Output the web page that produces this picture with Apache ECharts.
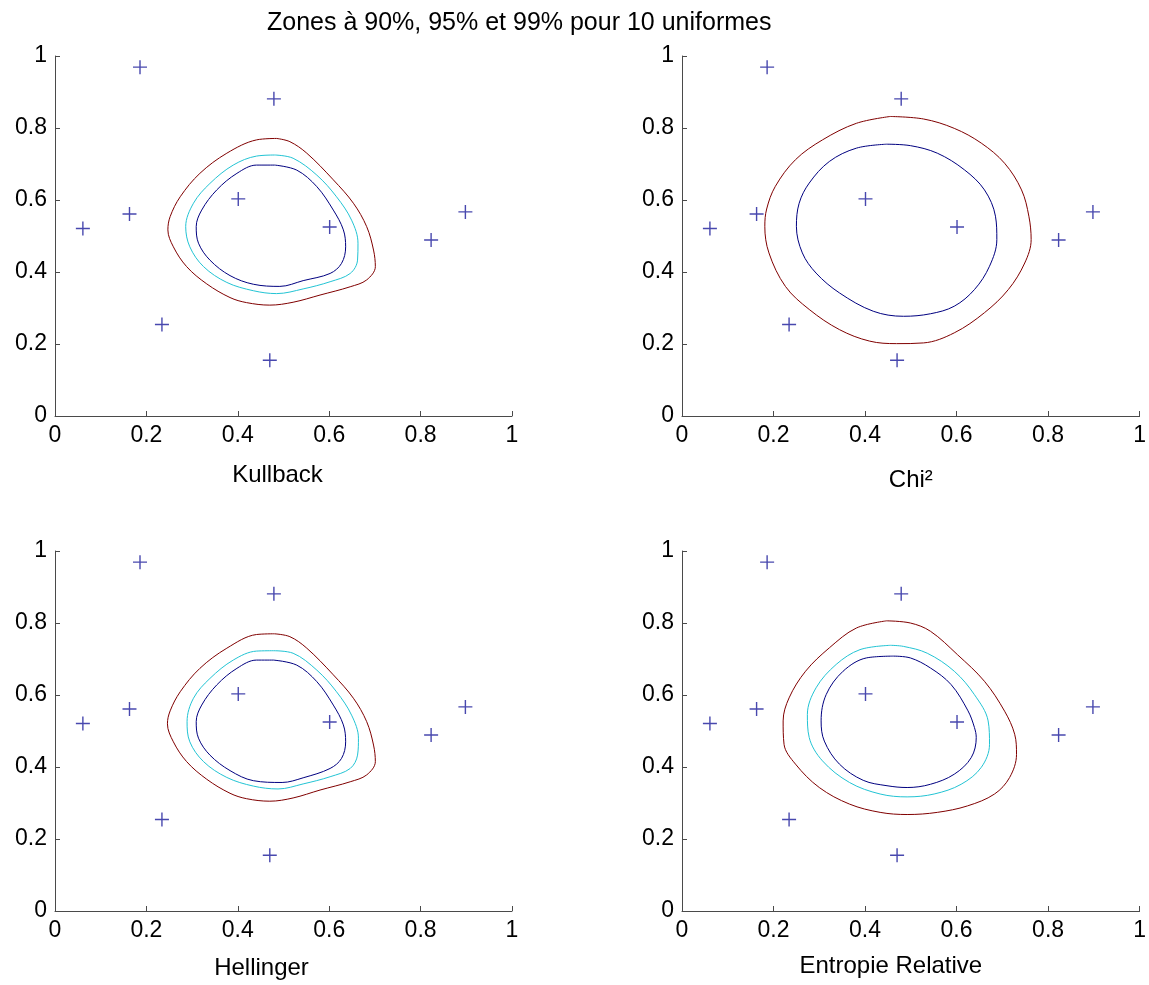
<!DOCTYPE html>
<html>
<head>
<meta charset="utf-8">
<script src="https://cdn.jsdelivr.net/npm/echarts@6/dist/echarts.min.js"></script>
<style>
html,body{margin:0;padding:0;background:#fff;}
#chart{width:1149px;height:985px;}
</style>
</head>
<body>
<div id="chart"></div>
<script>
// ---- data ----
const titleText = "Zones à 90%, 95% et 99% pour 10 uniformes";
const panelNames = ["Kullback", "Chi²", "Hellinger", "Entropie Relative"];
const tickValues = [0, 0.2, 0.4, 0.6, 0.8, 1];

// the 10 uniform sample points (same in every panel)
const pointsX = [0.061, 0.163, 0.186, 0.234, 0.401, 0.479, 0.470, 0.601, 0.823, 0.898];
const pointsY = [0.521, 0.561, 0.969, 0.254, 0.603, 0.881, 0.155, 0.525, 0.489, 0.567];

// Kullback contours
const kulOuter = [[0.485,0.771],[0.514,0.762],[0.551,0.730],[0.609,0.656],[0.653,0.591],[0.682,0.526],[0.697,0.461],[0.701,0.415],[0.682,0.378],[0.646,0.359],[0.580,0.336],[0.521,0.316],[0.470,0.308],[0.419,0.315],[0.383,0.329],[0.332,0.367],[0.288,0.415],[0.259,0.470],[0.247,0.517],[0.252,0.554],[0.274,0.609],[0.317,0.674],[0.376,0.730],[0.441,0.767]];
const kulMid = [[0.481,0.725],[0.521,0.716],[0.573,0.669],[0.616,0.609],[0.649,0.544],[0.663,0.480],[0.662,0.433],[0.646,0.396],[0.602,0.373],[0.543,0.353],[0.485,0.340],[0.434,0.348],[0.376,0.371],[0.325,0.415],[0.295,0.470],[0.286,0.526],[0.303,0.591],[0.339,0.646],[0.390,0.697],[0.441,0.722]];
const kulInner = [[0.481,0.697],[0.529,0.683],[0.573,0.637],[0.609,0.572],[0.631,0.517],[0.636,0.470],[0.627,0.424],[0.602,0.396],[0.543,0.376],[0.492,0.360],[0.434,0.366],[0.383,0.390],[0.339,0.433],[0.314,0.480],[0.309,0.526],[0.321,0.572],[0.354,0.628],[0.398,0.674],[0.441,0.697]];

// Chi² contours
const chiOuter = [[0.455,0.832],[0.528,0.825],[0.595,0.799],[0.654,0.758],[0.705,0.702],[0.742,0.628],[0.758,0.555],[0.763,0.490],[0.749,0.425],[0.713,0.351],[0.661,0.287],[0.595,0.231],[0.528,0.203],[0.469,0.201],[0.410,0.208],[0.344,0.240],[0.278,0.296],[0.226,0.360],[0.190,0.453],[0.181,0.527],[0.185,0.575],[0.204,0.638],[0.248,0.712],[0.307,0.767],[0.381,0.813]];
const chiInner = [[0.447,0.755],[0.499,0.751],[0.558,0.730],[0.617,0.684],[0.661,0.628],[0.685,0.555],[0.688,0.490],[0.672,0.416],[0.639,0.351],[0.595,0.305],[0.543,0.284],[0.484,0.277],[0.418,0.291],[0.344,0.342],[0.293,0.397],[0.263,0.453],[0.250,0.527],[0.256,0.591],[0.278,0.647],[0.322,0.707],[0.381,0.744]];

// Hellinger contours
const helOuter = [[0.480,0.770],[0.514,0.762],[0.551,0.730],[0.609,0.656],[0.653,0.591],[0.682,0.526],[0.697,0.461],[0.701,0.415],[0.682,0.378],[0.646,0.359],[0.580,0.336],[0.521,0.314],[0.470,0.305],[0.419,0.312],[0.383,0.327],[0.332,0.366],[0.288,0.415],[0.259,0.470],[0.246,0.520],[0.252,0.556],[0.274,0.609],[0.317,0.674],[0.376,0.730],[0.441,0.768]];
const helMid = [[0.478,0.723],[0.521,0.716],[0.573,0.669],[0.616,0.609],[0.649,0.544],[0.664,0.480],[0.662,0.433],[0.646,0.396],[0.602,0.373],[0.543,0.353],[0.488,0.339],[0.434,0.347],[0.376,0.371],[0.325,0.415],[0.295,0.470],[0.289,0.526],[0.303,0.591],[0.339,0.646],[0.390,0.697],[0.441,0.722]];
const helInner = [[0.478,0.697],[0.529,0.683],[0.573,0.637],[0.609,0.572],[0.631,0.517],[0.636,0.470],[0.627,0.424],[0.602,0.396],[0.543,0.370],[0.497,0.357],[0.434,0.362],[0.383,0.390],[0.339,0.433],[0.314,0.480],[0.309,0.526],[0.321,0.572],[0.354,0.628],[0.398,0.674],[0.441,0.697]];

// Entropie Relative contours
const entOuter = [[0.447,0.806],[0.499,0.800],[0.543,0.777],[0.602,0.712],[0.661,0.638],[0.705,0.555],[0.727,0.491],[0.731,0.435],[0.716,0.371],[0.683,0.325],[0.624,0.292],[0.558,0.274],[0.492,0.268],[0.433,0.274],[0.366,0.297],[0.300,0.343],[0.248,0.408],[0.223,0.463],[0.221,0.528],[0.234,0.592],[0.270,0.666],[0.322,0.731],[0.381,0.786]];
const entMid = [[0.455,0.738],[0.484,0.735],[0.536,0.716],[0.595,0.666],[0.639,0.601],[0.669,0.528],[0.672,0.463],[0.654,0.399],[0.610,0.352],[0.551,0.325],[0.492,0.317],[0.433,0.325],[0.366,0.357],[0.307,0.417],[0.278,0.482],[0.274,0.546],[0.293,0.620],[0.337,0.685],[0.389,0.726]];
const entInner = [[0.462,0.708],[0.499,0.703],[0.543,0.675],[0.588,0.629],[0.625,0.556],[0.639,0.510],[0.643,0.482],[0.632,0.426],[0.595,0.380],[0.543,0.352],[0.492,0.343],[0.448,0.348],[0.396,0.363],[0.344,0.408],[0.311,0.472],[0.304,0.528],[0.315,0.601],[0.352,0.666],[0.403,0.703]];

const panelContours = [
  [kulOuter, kulMid, kulInner],
  [chiOuter, null, chiInner],
  [helOuter, helMid, helInner],
  [entOuter, entMid, entInner]
];

// ---- styles ----
const colOuter = '#800000';
const colMid = '#22c4d4';
const colInner = '#000080';
const colPoint = '#1a1a9a';
const FONT = 'Liberation Sans, Arial, Helvetica, sans-serif';

const grids = [
  {left: 55, top: 56, width: 457, height: 360},
  {left: 682, top: 56, width: 458, height: 360},
  {left: 55, top: 551, width: 457, height: 360},
  {left: 682, top: 551, width: 458, height: 360}
];
const nameGaps = [47, 52, 45, 43];
// horizontal shift (px, negative = left) of each x-axis name
const nameShift = [-6, 0, -22, -20];

function axisCommon(){
  return {
    type: 'value', min: tickValues[0], max: tickValues[tickValues.length-1],
    interval: tickValues[1]-tickValues[0],
    splitLine: {show: false},
    axisLine: {show: true, lineStyle: {color: '#4a4a4a', width: 1}},
    axisTick: {show: true, inside: true, length: 5, lineStyle: {color: '#4a4a4a'}},
    axisLabel: {color: '#000', fontSize: 23, fontFamily: FONT, margin: 8,
      formatter: v => String(+v.toFixed(1))}
  };
}

const plusPath = 'path://M0,6.3H6.3V0H7.7V6.3H14V7.7H7.7V14H6.3V7.7H0Z';

const xAxes = [], yAxes = [], series = [];
panelNames.forEach((nm, i) => {
  const s = nameShift[i];
  xAxes.push(Object.assign(axisCommon(), {
    gridIndex: i, name: nm, nameLocation: 'middle', nameGap: nameGaps[i],
    nameTextStyle: {color: '#000', fontSize: 24, fontFamily: FONT,
      padding: s < 0 ? [0, -2 * s, 0, 0] : [0, 0, 0, 2 * s]}
  }));
  yAxes.push(Object.assign(axisCommon(), {gridIndex: i}));
  const cols = [colOuter, colMid, colInner];
  panelContours[i].forEach((c, k) => {
    if (!c) return;
    series.push({
      type: 'line', xAxisIndex: i, yAxisIndex: i,
      data: c.concat([c[0]]), showSymbol: false, smooth: 0.35,
      lineStyle: {color: cols[k], width: 1}, silent: true, animation: false, z: 2
    });
  });
  series.push({
    type: 'scatter', xAxisIndex: i, yAxisIndex: i,
    data: pointsX.map((x, j) => [x, pointsY[j]]),
    symbol: plusPath, symbolSize: 14,
    itemStyle: {color: colPoint}, silent: true, animation: false, z: 3
  });
});

const chart = echarts.init(document.getElementById('chart'));
chart.setOption({
  backgroundColor: '#fff',
  animation: false,
  title: {text: titleText, left: 262, top: 6,
    textStyle: {color: '#000', fontSize: 25, fontWeight: 'normal', fontFamily: FONT}},
  grid: grids,
  xAxis: xAxes,
  yAxis: yAxes,
  series: series
});
</script>
</body>
</html>
